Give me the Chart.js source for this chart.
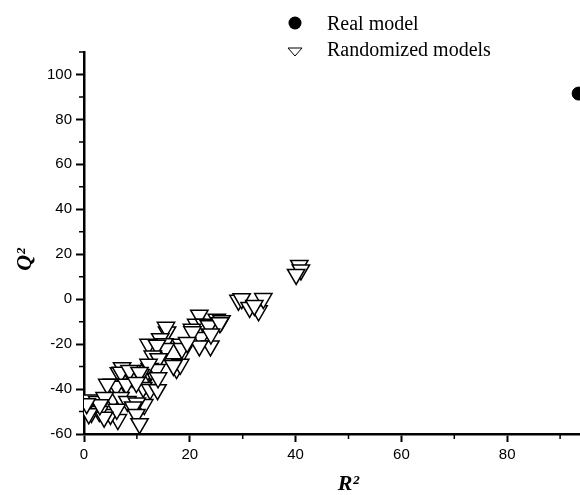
<!DOCTYPE html>
<html lang="en">
<head>
<meta charset="UTF-8">
<title>Y-randomization: Q2 vs R2</title>
<script src="https://cdn.jsdelivr.net/npm/chart.js"></script>
<style>
  body { margin: 0; overflow: hidden; background: #fff; }
  .wrap { position: relative; width: 640px; height: 495px; }
  .legend { position: absolute; left: 286px; top: 10px; font: 20px "Liberation Serif", "Times New Roman", serif; color: #000; }
  .legend-item { display: flex; align-items: center; height: 26px; white-space: nowrap; }
  .legend-item svg { width: 18px; height: 18px; margin-right: 23px; flex: none; }
</style>
</head>
<body>
<div class="wrap">
  <canvas id="chart"></canvas>
  <div class="legend" id="legend"></div>
</div>
<script>
// real model
const realR2 = [93.5];
const realQ2 = [91.5];

// randomized models (R2, Q2 pairs)
const randR2 = [
  40.7, 41.0, 40.1,
  29.2, 29.8, 31.3, 33.0, 33.9, 32.2,
  21.8, 25.1, 26.0, 21.2, 22.7, 24.3, 20.4, 22.1, 23.9, 21.8, 23.6, 25.7, 20.5, 24.0,
  15.7, 15.5, 14.4, 15.2, 18.3, 18.8, 18.5, 19.5, 15.4, 17.5, 16.8, 18.2, 16.9,
  12.2, 13.8, 13.0, 14.1, 12.4, 11.9, 11.1, 12.1, 12.7, 11.2, 12.5, 11.4, 13.9, 13.7, 14.0, 12.2,
  7.2, 6.6, 9.1, 10.7, 5.3, 7.8, 7.0, 8.6, 10.5, 6.1, 8.0, 9.9, 5.5, 6.9, 8.2, 10.0, 9.3, 9.9, 10.5, 6.4, 5.0, 6.2,
  4.4, 1.2, 2.5, 3.9, 1.4, 2.9, 3.8, 0.9, 3.0, 0.5
];
const randQ2 = [
  15.0, 13.0, 11.0,
  -0.5, 0.2, -3.7, -5.2, 0.3, -2.8,
  -7.1, -8.9, -9.6, -11.2, -11.2, -13.4, -13.4, -17.1, -20.8, -20.8, -11.8, -10.5, -14.5, -15.5,
  -14.6, -12.5, -17.6, -19.8, -20.1, -23.1, -22.0, -19.3, -22.0, -30.9, -28.7, -29.0, -29.5,
  -20.1, -20.5, -25.3, -26.5, -30.9, -34.7, -36.9, -31.7, -31.7, -39.3, -40.2, -46.9, -40.3, -31.3, -35.0, -29.0,
  -30.5, -32.7, -34.7, -33.5, -37.9, -37.9, -32.5, -31.7, -32.6, -38.8, -37.9, -37.1, -44.6, -43.8, -45.5, -46.2, -48.0, -51.3, -55.4, -53.6, -51.3, -49.0,
  -37.9, -44.9, -45.5, -43.8, -50.4, -50.0, -52.5, -51.0, -47.0, -46.5
];

const seriesLabels = ['Real model', 'Randomized models'];
const xLabelTicks = [0, 20, 40, 60, 80, 100];
const yLabelTicks = [-60, -40, -20, 0, 20, 40, 60, 80, 100];

const pts = (xs, ys) => xs.map((v, i) => ({ x: v, y: ys[i] }));

const tickFont = { family: '"Liberation Sans", Arial, sans-serif', size: 15 };
const titleFont = { family: '"Liberation Serif", "Times New Roman", serif', size: 22, style: 'italic', weight: 'bold', lineHeight: 1 };

// shorter unlabelled ticks
const minorTicks = {
  id: 'minorTicks',
  afterDraw(chart) {
    const ctx = chart.ctx;
    const xs = chart.scales.x, ys = chart.scales.y;
    ctx.save();
    ctx.strokeStyle = '#000';
    ctx.lineWidth = 1.5;
    ctx.beginPath();
    xs.ticks.forEach(t => {
      if (xLabelTicks.includes(t.value)) return;
      const px = xs.getPixelForValue(t.value);
      ctx.moveTo(px, xs.top);
      ctx.lineTo(px, xs.top + 5);
    });
    ys.ticks.forEach(t => {
      if (yLabelTicks.includes(t.value)) return;
      const py = ys.getPixelForValue(t.value);
      ctx.moveTo(ys.right, py);
      ctx.lineTo(ys.right - 5, py);
    });
    ctx.stroke();
    ctx.restore();
  }
};

const chart = new Chart(document.getElementById('chart'), {
  type: 'scatter',
  data: {
    datasets: [
      {
        label: seriesLabels[0],
        data: pts(realR2, realQ2),
        pointStyle: 'circle',
        pointRadius: 6.5,
        backgroundColor: '#000',
        borderColor: '#000',
        borderWidth: 1
      },
      {
        label: seriesLabels[1],
        data: pts(randR2, randQ2),
        pointStyle: 'triangle',
        rotation: 180,
        pointRadius: 10,
        backgroundColor: '#fff',
        borderColor: '#000',
        borderWidth: 1.5
      }
    ]
  },
  options: {
    responsive: true,
    maintainAspectRatio: false,
    animation: false,
    layout: { padding: { top: 52, right: 27, left: 0, bottom: 0 } },
    plugins: {
      legend: { display: false },
      tooltip: { enabled: false }
    },
    scales: {
      x: {
        type: 'linear',
        min: 0,
        max: 100,
        afterFit: s => { s.height = 61; },
        border: { display: true, color: '#000', width: 2.5 },
        grid: {
          drawOnChartArea: false,
          tickLength: 8,
          tickWidth: 2,
          tickColor: c => xLabelTicks.includes(c.tick.value) ? '#000' : 'rgba(0,0,0,0)'
        },
        ticks: {
          stepSize: 10,
          padding: 4,
          color: '#000',
          font: tickFont,
          maxRotation: 0,
          autoSkip: false,
          callback: v => xLabelTicks.includes(v) ? String(v) : ''
        },
        title: { display: true, text: 'R²', color: '#000', font: titleFont, padding: { top: 0, bottom: 0 } }
      },
      y: {
        type: 'linear',
        min: -60,
        max: 110,
        afterFit: s => { s.width = 84; },
        border: { display: true, color: '#000', width: 2.5 },
        grid: {
          drawOnChartArea: false,
          tickLength: 8,
          tickWidth: 2,
          tickColor: c => yLabelTicks.includes(c.tick.value) ? '#000' : 'rgba(0,0,0,0)'
        },
        ticks: {
          stepSize: 10,
          padding: 4,
          color: '#000',
          font: tickFont,
          autoSkip: false,
          callback: v => yLabelTicks.includes(v) ? String(v) : ''
        },
        title: { display: true, text: 'Q²      ', color: '#000', font: titleFont, padding: { top: 14, bottom: 0 } }
      }
    }
  },
  plugins: [minorTicks]
});

// legend as html, built from the datasets
const legendEl = document.getElementById('legend');
chart.data.datasets.forEach((ds, i) => {
  const item = document.createElement('div');
  item.className = 'legend-item';
  const marker = i === 0
    ? '<svg viewBox="0 0 18 18"><circle cx="9" cy="9" r="6.5" fill="#000"/></svg>'
    : '<svg viewBox="0 0 18 18"><polygon points="2,8 16,8 9,16" fill="#fff" stroke="#000" stroke-width="1"/></svg>';
  item.innerHTML = marker + '<span>' + ds.label + '</span>';
  legendEl.appendChild(item);
});
</script>
</body>
</html>
